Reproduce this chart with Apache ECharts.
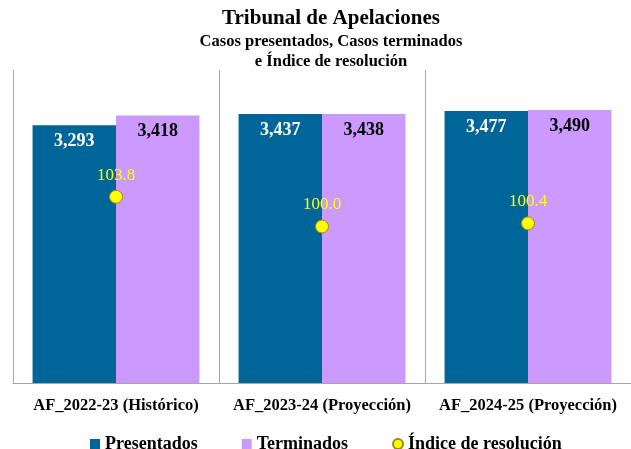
<!DOCTYPE html>
<html>
<head>
<meta charset="utf-8">
<script src="https://cdn.jsdelivr.net/npm/echarts@6/dist/echarts.min.js"></script>
<style>
  html, body { margin: 0; padding: 0; background: #fff; }
  #chart { width: 631px; height: 449px; }
</style>
</head>
<body>
<div id="chart"></div>
<script>
var categories = ['AF_2022-23 (Histórico)', 'AF_2023-24 (Proyección)', 'AF_2024-25 (Proyección)'];
var presentados = [3293, 3437, 3477];
var terminados = [3418, 3438, 3490];
var indice = [103.8, 100.0, 100.4];

var serif = '"Liberation Serif", "DejaVu Serif", serif';

var chart = echarts.init(document.getElementById('chart'));

function fmt(p) {
    return p.value.toLocaleString('en-US');
}

var option = {
    animation: false,
    textStyle: { fontFamily: serif },
    title: {
        text: 'Tribunal de Apelaciones',
        subtext: 'Casos presentados, Casos terminados\ne Índice de resolución',
        left: 326,
        textAlign: 'center',
        top: 3,
        itemGap: 3,
        textStyle: { fontFamily: serif, fontSize: 21, fontWeight: 'bold', color: '#000' },
        subtextStyle: { fontFamily: serif, fontSize: 16.5, fontWeight: 'bold', color: '#000', lineHeight: 20 }
    },
    legend: {
        top: 430,
        left: 85,
        itemWidth: 10,
        itemHeight: 10,
        itemGap: 44,
        textStyle: { fontFamily: serif, fontSize: 18, fontWeight: 'bold', color: '#000' },
        data: [
            { name: 'Presentados', icon: 'rect' },
            { name: 'Terminados', icon: 'rect' },
            { name: 'Índice de resolución', icon: 'circle' }
        ]
    },
    grid: { left: 13, right: 0, top: 70, bottom: 66 },
    xAxis: {
        type: 'category',
        data: categories,
        axisLine: { lineStyle: { color: '#a6a6a6' } },
        axisTick: { show: false },
        axisLabel: { interval: 0, fontFamily: serif, fontSize: 16.5, fontWeight: 'bold', color: '#000', margin: 14 },
        splitLine: { show: true, interval: 0, lineStyle: { color: '#a6a6a6', width: 1 } }
    },
    yAxis: [
        { type: 'value', min: 0, max: 4000, show: false, splitLine: { show: false } },
        { type: 'value', min: 80, max: 120, show: false, splitLine: { show: false } }
    ],
    series: [
        {
            name: 'Presentados',
            type: 'bar',
            data: presentados,
            barGap: '0%',
            barCategoryGap: '19%',
            itemStyle: { color: '#006699' },
            label: {
                show: true, position: 'insideTop', distance: 7,
                formatter: fmt,
                fontFamily: serif, fontSize: 18, fontWeight: 'bold', color: '#fff'
            }
        },
        {
            name: 'Terminados',
            type: 'bar',
            data: terminados,
            itemStyle: { color: '#cc99ff' },
            label: {
                show: true, position: 'insideTop', distance: 7,
                formatter: fmt,
                fontFamily: serif, fontSize: 18, fontWeight: 'bold', color: '#000'
            }
        },
        {
            name: 'Índice de resolución',
            type: 'line',
            yAxisIndex: 1,
            data: indice,
            lineStyle: { width: 0, opacity: 0 },
            symbol: 'circle',
            symbolSize: 13,
            itemStyle: { color: '#ffff00', borderColor: '#a08c00', borderWidth: 1 },
            label: {
                show: true, position: 'top', distance: 6,
                formatter: function (p) { return p.value.toFixed(1); },
                fontFamily: serif, fontSize: 17, color: '#ffff00'
            },
            z: 5
        }
    ]
};

chart.setOption(option);
</script>
</body>
</html>
